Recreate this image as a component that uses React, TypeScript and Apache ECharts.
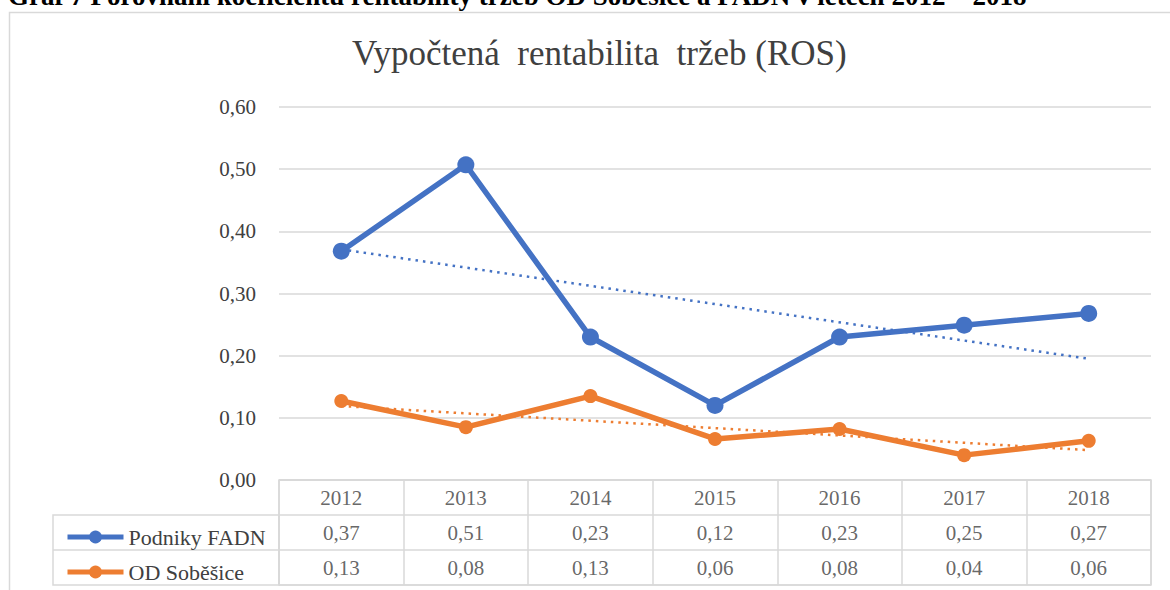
import React, { useEffect, useRef } from "react";
import * as echarts from "echarts";

const years = ["2012", "2013", "2014", "2015", "2016", "2017", "2018"];
const fadnName = "Podniky FADN";
const odName = "OD Soběšice";
const fadnValues = [0.368, 0.507, 0.23, 0.12, 0.23, 0.249, 0.268];
const odValues = [0.127, 0.085, 0.135, 0.066, 0.082, 0.04, 0.063];
const fadnTable = ["0,37", "0,51", "0,23", "0,12", "0,23", "0,25", "0,27"];
const odTable = ["0,13", "0,08", "0,13", "0,06", "0,08", "0,04", "0,06"];
const fadnTrend = [0.371, null, null, null, null, null, 0.195];
const odTrend = [0.119, null, null, null, null, null, 0.048];
const rowNames = ["years", "fadn", "od"];
const yTicks = { min: 0, max: 0.6, interval: 0.1 };

const SERIF = "Liberation Serif";
const BLUE = "#4472C4";
const ORANGE = "#ED7D31";
const GRIDC = "#d9d9d9";
const TXT = "#404040";

export default function App() {
  const ref = useRef<HTMLDivElement>(null);
  useEffect(() => {
    if (!ref.current) return;
    const chart = echarts.init(ref.current, null, { renderer: "svg" });
    const tableData: any[] = [];
    years.forEach((y, i) => {
      tableData.push([i, 0, y]);
      tableData.push([i, 1, fadnTable[i]]);
      tableData.push([i, 2, odTable[i]]);
    });
    chart.setOption({
      animation: false,
      backgroundColor: "#ffffff",
      textStyle: { fontFamily: SERIF },
      graphic: [
        {
          type: "rect",
          shape: { x: 9.5, y: 12.5, width: 1200, height: 620 },
          style: { fill: "none", stroke: GRIDC, lineWidth: 1.5 },
          silent: true,
        },
        {
          type: "text",
          x: 8,
          y: -4,
          style: {
            text: "Graf 7 Porovnání koeficientu rentability tržeb OD Soběšice a FADN v letech 2012 – 2018",
            fontFamily: SERIF,
            fontSize: 27,
            fontWeight: "bold",
            fill: "#000",
            verticalAlign: "middle",
            align: "left",
          },
        },
        {
          type: "rect",
          shape: { x: 53, y: 515, width: 226, height: 70 },
          style: { fill: "none", stroke: GRIDC, lineWidth: 1.5 },
          silent: true,
        },
        {
          type: "line",
          shape: { x1: 53, y1: 550, x2: 279, y2: 550 },
          style: { stroke: GRIDC, lineWidth: 1.5 },
          silent: true,
        },
      ],
      title: {
        text: "Vypočtená  rentabilita  tržeb (ROS)",
        left: 347,
        top: 31,
        textStyle: { fontFamily: SERIF, fontSize: 35, fontWeight: "normal", color: TXT },
      },
      legend: {
        data: [fadnName, odName],
        orient: "vertical",
        left: 60,
        top: 521,
        itemWidth: 56,
        itemHeight: 16,
        itemGap: 13,
        lineStyle: { width: 5 },
        textStyle: { fontFamily: SERIF, fontSize: 22, color: TXT, lineHeight: 22 },
        selectedMode: false,
      },
      grid: [
        { left: 279, right: 19, top: 107, bottom: 110 },
        { left: 279, right: 19, top: 480, height: 105, show: true, borderColor: GRIDC, borderWidth: 1.5 },
      ],
      xAxis: [
        {
          type: "category",
          data: years,
          gridIndex: 0,
          boundaryGap: true,
          axisLine: { show: false },
          axisTick: { show: false },
          axisLabel: { show: false },
          splitLine: { show: false },
        },
        {
          type: "category",
          data: years,
          gridIndex: 1,
          boundaryGap: true,
          axisLine: { show: false },
          axisTick: { show: false },
          axisLabel: { show: false },
          splitLine: { show: true, lineStyle: { color: GRIDC, width: 1.5 } },
        },
      ],
      yAxis: [
        {
          type: "value",
          gridIndex: 0,
          min: yTicks.min,
          max: yTicks.max,
          interval: yTicks.interval,
          axisLine: { show: false },
          axisTick: { show: false },
          axisLabel: {
            margin: 23,
            fontFamily: SERIF,
            fontSize: 21,
            color: TXT,
            formatter: (v: number) => v.toFixed(2).replace(".", ","),
          },
          splitLine: { lineStyle: { color: GRIDC, width: 1.5 } },
        },
        {
          type: "category",
          data: rowNames,
          gridIndex: 1,
          inverse: true,
          boundaryGap: true,
          axisLine: { show: false },
          axisTick: { show: false },
          axisLabel: { show: false },
          splitLine: { show: true, lineStyle: { color: GRIDC, width: 1.5 } },
        },
      ],
      series: [
        {
          name: fadnName + " trend",
          type: "line",
          data: fadnTrend,
          connectNulls: true,
          symbol: "none",
          lineStyle: { color: BLUE, width: 2.5, type: [2.5, 5] },
          z: 1,
        },
        {
          name: odName + " trend",
          type: "line",
          data: odTrend,
          connectNulls: true,
          symbol: "none",
          lineStyle: { color: ORANGE, width: 2.5, type: [2.5, 5] },
          z: 1,
        },
        {
          name: fadnName,
          type: "line",
          data: fadnValues,
          symbol: "circle",
          symbolSize: 17,
          itemStyle: { color: BLUE },
          lineStyle: { color: BLUE, width: 5.5 },
          z: 3,
        },
        {
          name: odName,
          type: "line",
          data: odValues,
          symbol: "circle",
          symbolSize: 14,
          itemStyle: { color: ORANGE },
          lineStyle: { color: ORANGE, width: 5.5 },
          z: 3,
        },
        {
          type: "scatter",
          xAxisIndex: 1,
          yAxisIndex: 1,
          data: tableData,
          symbolSize: 1,
          itemStyle: { color: "rgba(0,0,0,0)" },
          label: {
            show: true,
            position: "inside",
            formatter: (p: any) => p.value[2],
            fontFamily: SERIF,
            fontSize: 21,
            color: TXT,
          },
          silent: true,
        },
      ],
    });
    return () => chart.dispose();
  }, []);
  return (
    <div
      ref={ref}
      style={{ position: "absolute", left: 0, top: 0, width: 1170, height: 590 }}
    />
  );
}
